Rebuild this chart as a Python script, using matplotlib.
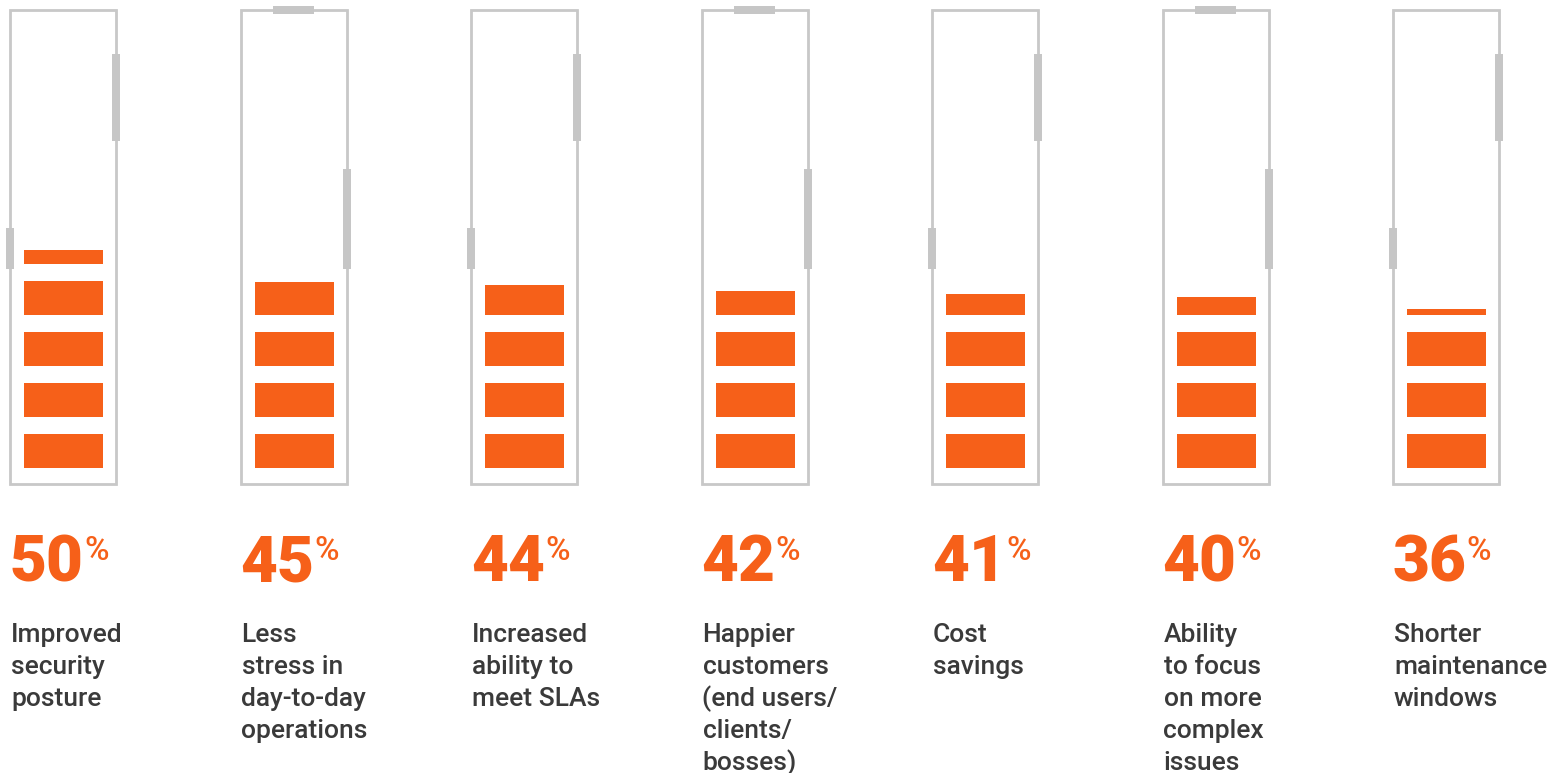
import matplotlib
matplotlib.use("Agg")
import matplotlib.pyplot as plt
from matplotlib.patches import Rectangle

# Survey results: share of respondents reporting each benefit
categories = [
    "Improved\nsecurity\nposture",
    "Less\nstress in\nday-to-day\noperations",
    "Increased\nability to\nmeet SLAs",
    "Happier\ncustomers\n(end users/\nclients/\nbosses)",
    "Cost\nsavings",
    "Ability\nto focus\non more\ncomplex\nissues",
    "Shorter\nmaintenance\nwindows",
]
values = [50, 45, 44, 42, 41, 40, 36]

ORANGE = "#F66019"
FRAME = "#C8C8C8"
TAB = "#C6C6C6"
TEXT = "#3A3A3A"

W, H = 1560, 773
X0, PITCH = 10, 230.5          # left edge of first tube, tube spacing
TUBE_W, TOP, BOTTOM = 106, 10, 484
SEG_X, SEG_W = 14, 79
SEG_BASE, SEG_H, SEG_PITCH = 468, 34, 51
PX_PER_PCT = 3.0               # orange height per percentage point
LABEL_Y, LINE_STEP = 642, 32

fig = plt.figure(figsize=(W / 100, H / 100), dpi=100)
ax = fig.add_axes([0, 0, 1, 1])
ax.set_xlim(0, W)
ax.set_ylim(H, 0)
ax.axis("off")


def draw_tube(ax, left, style):
    ax.add_patch(Rectangle((left, TOP), TUBE_W, BOTTOM - TOP, fill=False,
                           edgecolor=FRAME, linewidth=2, zorder=2))
    right = left + TUBE_W
    if style == 0:
        # right-hand tab high up, short left-hand tab
        ax.add_patch(Rectangle((right - 4, 54), 8, 87, color=TAB, lw=0, zorder=3))
        ax.add_patch(Rectangle((left - 4, 228), 8, 41, color=TAB, lw=0, zorder=3))
    else:
        # cap on top, long right-hand tab lower down
        ax.add_patch(Rectangle((left + 32, TOP - 4), 41, 8, color=TAB, lw=0, zorder=3))
        ax.add_patch(Rectangle((right - 4, 169), 8, 100, color=TAB, lw=0, zorder=3))


def draw_fill(ax, left, value):
    remaining = value * PX_PER_PCT
    i = 0
    while remaining > 0:
        h = min(SEG_H, remaining)
        base = SEG_BASE - i * SEG_PITCH
        ax.add_patch(Rectangle((left + SEG_X, base - h), SEG_W, h,
                               color=ORANGE, lw=0, zorder=2))
        remaining -= h
        i += 1


renderer = fig.canvas.get_renderer()
for i, (label, value) in enumerate(zip(categories, values)):
    left = X0 + i * PITCH
    draw_tube(ax, left, i % 2)
    draw_fill(ax, left, value)

    num = ax.text(left, 581, f"{value}", fontsize=46, fontweight="heavy",
                  family="Roboto", color=ORANGE, va="baseline", ha="left")
    bb = num.get_window_extent(renderer=renderer)
    x_right = ax.transData.inverted().transform((bb.x1, bb.y0))[0]
    ax.text(x_right, 560, "%", fontsize=24, fontweight="medium", family="Roboto",
            color=ORANGE, va="baseline", ha="left")

    for k, line in enumerate(label.split("\n")):
        ax.text(left + 1, LABEL_Y + k * LINE_STEP, line, fontsize=19,
                fontweight="medium", family="Roboto", color=TEXT,
                va="baseline", ha="left")

fig.savefig("out.png", dpi=100, facecolor="white")
